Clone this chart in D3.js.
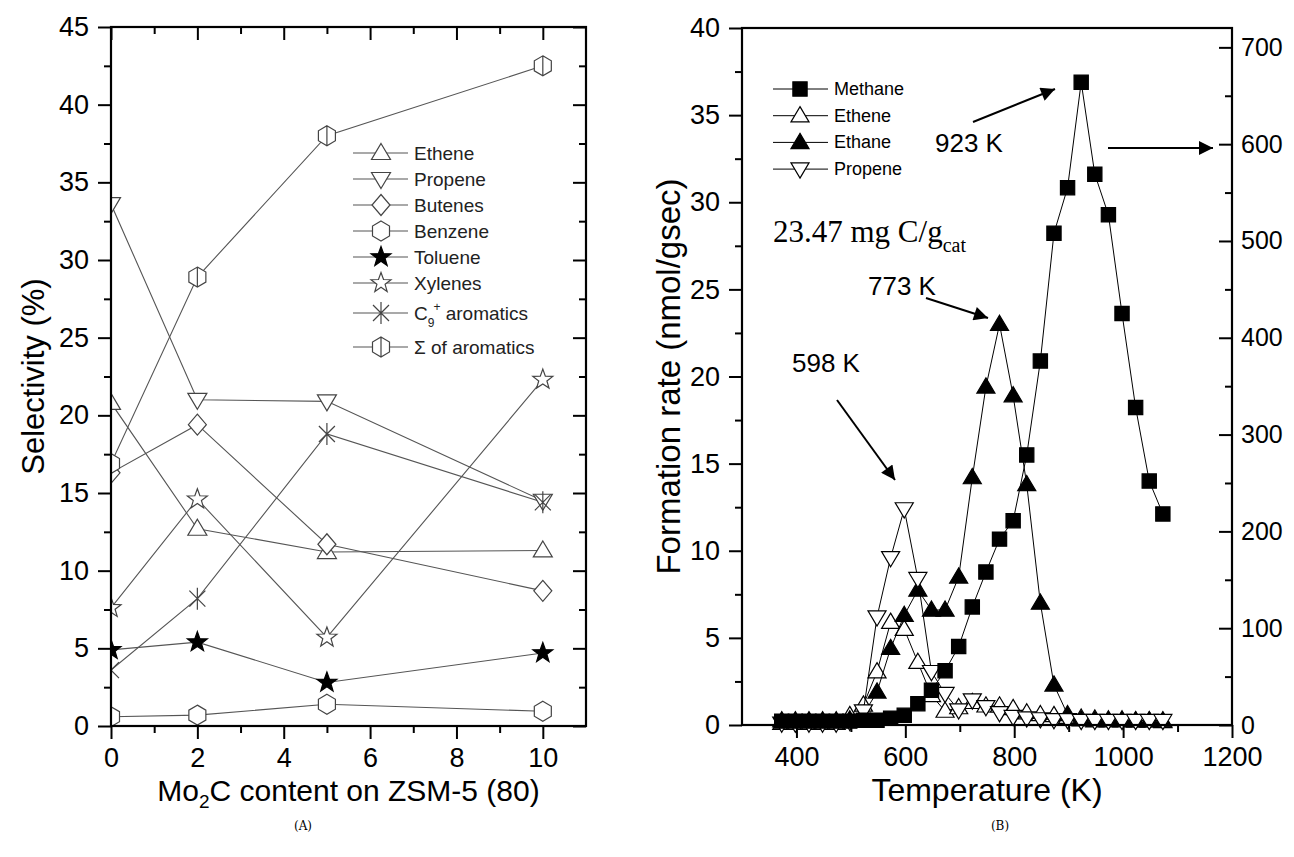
<!DOCTYPE html>
<html><head><meta charset="utf-8">
<script src="https://cdn.jsdelivr.net/npm/d3@7"></script>
<style>body{margin:0;background:#fff}svg{display:block}</style>
</head><body>
<svg id="c" width="1294" height="857"></svg>
<script>
// ---------- Panel A data ----------
const moContent = [0, 2, 5, 10];
const selEthene   = [20.8, 12.7, 11.2, 11.3];
const selPropene  = [33.6, 21.0, 20.9, 14.5];
const selButenes  = [16.3, 19.4, 11.7, 8.7];
const selBenzene  = [0.6, 0.7, 1.4, 0.95];
const selToluene  = [4.9, 5.4, 2.8, 4.7];
const selXylenes  = [7.6, 14.6, 5.7, 22.3];
const selC9       = [3.6, 8.2, 18.8, 14.4];
const selSum      = [16.9, 28.9, 38.0, 42.5];
const xTicksA = [0, 2, 4, 6, 8, 10];
const yTicksA = [0, 5, 10, 15, 20, 25, 30, 35, 40, 45];

// ---------- Panel B data ----------
const temps = [373, 398, 423, 448, 473, 498, 523, 548, 573, 598, 623, 648, 673, 698, 723, 748, 773, 798, 823, 848, 873, 898, 923, 948, 973, 998, 1023, 1048, 1073];
// methane on the right axis
const methane = [4, 4, 4, 4, 4, 4, 5, 5, 7, 10, 22, 36, 56, 81, 122, 158, 192, 211, 279, 376, 508, 555, 664, 569, 527, 425, 328, 252, 218];
const ethene  = [0.1, 0.1, 0.1, 0.1, 0.1, 0.55, 1.15, 3.06, 5.9, 5.5, 3.6, 1.7, 0.8, 1.0, 1.3, 1.1, 1.1, 0.95, 0.7, 0.6, 0.55, 0.45, 0.4, 0.35, 0.3, 0.3, 0.25, 0.25, 0.2];
const ethane  = [0.25, 0.25, 0.25, 0.25, 0.25, 0.3, 0.6, 1.9, 4.4, 6.3, 7.75, 6.6, 6.6, 8.5, 14.2, 19.4, 23.0, 18.9, 13.8, 7.0, 2.3, 0.6, 0.3, 0.25, 0.25, 0.25, 0.25, 0.25, 0.25];
const propene = [0.1, 0.1, 0.1, 0.1, 0.1, 0.2, 0.8, 6.2, 9.6, 12.4, 8.4, 3.06, 1.8, 0.86, 1.43, 1.05, 0.7, 0.48, 0.4, 0.35, 0.3, 0.3, 0.25, 0.25, 0.25, 0.25, 0.25, 0.25, 0.25];
const xTicksB = [400, 600, 800, 1000, 1200];
const yTicksB = [0, 5, 10, 15, 20, 25, 30, 35, 40];
const yTicksB2 = [0, 100, 200, 300, 400, 500, 600, 700];

const SANS = "'Liberation Sans', Arial, sans-serif";
const SERIF = "'Liberation Serif', 'Times New Roman', serif";
const svg = d3.select('#c');

// ---------- marker shapes ----------
function hexPts(rx, ry){ return [[0,-ry],[rx,-ry/2],[rx,ry/2],[0,ry],[-rx,ry/2],[-rx,-ry/2]]; }
function starPts(ro, ri){ const p=[]; for(let i=0;i<10;i++){const a=-Math.PI/2+i*Math.PI/5; const r=i%2?ri:ro; p.push([r*Math.cos(a), r*Math.sin(a)]);} return p; }
function poly(p){ return 'M'+p.map(d=>d[0].toFixed(2)+','+d[1].toFixed(2)).join('L')+'Z'; }
const shapes = {
  triUp:   k => poly([[0,-9.5*k],[9.5*k,6.5*k],[-9.5*k,6.5*k]]),
  triDown: k => poly([[0,9.5*k],[9.5*k,-6.5*k],[-9.5*k,-6.5*k]]),
  diamond: k => poly([[0,-10.5*k],[9*k,0],[0,10.5*k],[-9*k,0]]),
  hex:     k => poly(hexPts(8.5*k,10*k)),
  hexBar:  k => poly(hexPts(8.5*k,10*k)) + `M0,${-10*k}L0,${10*k}`,
  star:    k => poly(starPts(10.5*k,4.3*k)),
  aster:   k => `M0,${-11*k}L0,${11*k}M${-8*k},${-8*k}L${8*k},${8*k}M${-8*k},${8*k}L${8*k},${-8*k}`,
  square:  k => poly([[-7.5*k,-7.5*k],[7.5*k,-7.5*k],[7.5*k,7.5*k],[-7.5*k,7.5*k]])
};

// ================= PANEL A =================
const xA = d3.scaleLinear().domain([0, 11]).range([111, 586]);
const yA = d3.scaleLinear().domain([0, 45]).range([726, 27]);

svg.append('clipPath').attr('id','clipA').append('rect')
  .attr('x', xA(0)).attr('y', yA(45)).attr('width', xA(11)-xA(0)).attr('height', yA(0)-yA(45));

const seriesA = [
  {name:'Ethene',  vals:selEthene,  shape:'triUp',   fill:'#fff'},
  {name:'Propene', vals:selPropene, shape:'triDown', fill:'#fff'},
  {name:'Butenes', vals:selButenes, shape:'diamond', fill:'#fff'},
  {name:'Benzene', vals:selBenzene, shape:'hex',     fill:'#fff'},
  {name:'Toluene', vals:selToluene, shape:'star',    fill:'#000'},
  {name:'Xylenes', vals:selXylenes, shape:'star',    fill:'#fff'},
  {name:'C9',      vals:selC9,      shape:'aster',   fill:'none'},
  {name:'Sum',     vals:selSum,     shape:'hexBar',  fill:'#fff'}
];
const gA = svg.append('g').attr('clip-path','url(#clipA)');
const lineA = d3.line().x((d,i)=>xA(moContent[i])).y(d=>yA(d));
seriesA.forEach(s=>{
  gA.append('path').attr('d', lineA(s.vals)).attr('fill','none').attr('stroke','#555').attr('stroke-width',1.1);
});
seriesA.forEach(s=>{
  gA.selectAll(null).data(s.vals).enter().append('path')
    .attr('transform',(d,i)=>`translate(${xA(moContent[i])},${yA(d)})`)
    .attr('d', shapes[s.shape](1))
    .attr('fill', s.fill).attr('stroke', s.fill==='#000' ? '#000' : '#444').attr('stroke-width',1.2);
});

function styleAxis(g, fs){
  g.selectAll('.domain').remove();
  g.selectAll('line').attr('stroke','#000').attr('stroke-width',2);
  g.selectAll('text').attr('font-family',SANS).attr('font-size',fs).attr('fill','#000');
}
// bottom
svg.append('g').attr('transform',`translate(0,${yA(0)})`)
  .call(d3.axisBottom(xA).tickValues(xTicksA).tickSize(13).tickPadding(9).tickFormat(d3.format('d'))).call(g=>styleAxis(g,27));
svg.append('g').attr('transform',`translate(0,${yA(0)})`)
  .call(d3.axisBottom(xA).tickValues([1,3,5,7,9]).tickSize(7).tickFormat('')).call(g=>styleAxis(g,27));
// top (inward)
svg.append('g').attr('transform',`translate(0,${yA(45)})`)
  .call(d3.axisTop(xA).tickValues(xTicksA).tickSize(-13).tickFormat('')).call(g=>styleAxis(g,27));
svg.append('g').attr('transform',`translate(0,${yA(45)})`)
  .call(d3.axisTop(xA).tickValues([1,3,5,7,9]).tickSize(-7).tickFormat('')).call(g=>styleAxis(g,27));
// left
svg.append('g').attr('transform',`translate(${xA(0)},0)`)
  .call(d3.axisLeft(yA).tickValues(yTicksA).tickSize(13).tickPadding(9)).call(g=>styleAxis(g,27));
svg.append('g').attr('transform',`translate(${xA(0)},0)`)
  .call(d3.axisLeft(yA).tickValues(d3.range(2.5,45,5)).tickSize(7).tickFormat('')).call(g=>styleAxis(g,27));
// right (inward)
svg.append('g').attr('transform',`translate(${xA(11)},0)`)
  .call(d3.axisRight(yA).tickValues(yTicksA).tickSize(-13).tickFormat('')).call(g=>styleAxis(g,27));
svg.append('g').attr('transform',`translate(${xA(11)},0)`)
  .call(d3.axisRight(yA).tickValues(d3.range(2.5,45,5)).tickSize(-7).tickFormat('')).call(g=>styleAxis(g,27));
svg.append('rect').attr('x',xA(0)).attr('y',yA(45)).attr('width',xA(11)-xA(0)).attr('height',yA(0)-yA(45))
  .attr('fill','none').attr('stroke','#000').attr('stroke-width',2.2);

// titles A
svg.append('text').attr('transform',`translate(44,${(yA(0)+yA(45))/2}) rotate(-90)`)
  .attr('text-anchor','middle').attr('font-family',SANS).attr('font-size',31).text('Selectivity (%)');
const tA = svg.append('text').attr('x',(xA(0)+xA(11))/2).attr('y',801).attr('text-anchor','middle')
  .attr('font-family',SANS).attr('font-size',30);
tA.append('tspan').text('Mo');
tA.append('tspan').attr('font-size',19).attr('dy',7).text('2');
tA.append('tspan').attr('dy',-7).text('C content on ZSM-5 (80)');

// legend A
const legA = svg.append('g');
const legNames = ['Ethene','Propene','Butenes','Benzene','Toluene','Xylenes','C9','Sum'];
seriesA.forEach((s,i)=>{
  const y = 153 + i*26 + (i>=6 ? (i-5)*4 : 0) + (i===7 ? 4 : 0);
  legA.append('line').attr('x1',353).attr('x2',408).attr('y1',y).attr('y2',y).attr('stroke','#555').attr('stroke-width',1.1);
  legA.append('path').attr('transform',`translate(381,${y})`).attr('d',shapes[s.shape](1))
    .attr('fill', s.fill==='none' ? 'none' : s.fill).attr('stroke', s.fill==='#000' ? '#000' : '#444').attr('stroke-width',1.2);
  const t = legA.append('text').attr('x',414).attr('y',y+7).attr('font-family',SANS).attr('font-size',19).attr('fill','#222');
  if(s.name==='C9'){
    t.append('tspan').text('C');
    t.append('tspan').attr('font-size',12).attr('dy',7).text('9');
    t.append('tspan').attr('font-size',12).attr('dx',-1).attr('dy',-16).text('+');
    t.append('tspan').attr('dy',9).text(' aromatics');
  } else if(s.name==='Sum'){
    t.text('\u03A3 of aromatics');
  } else t.text(s.name);
});

// ================= PANEL B =================
const xB = d3.scaleLinear().domain([300, 1200]).range([742, 1232]);
const yB = d3.scaleLinear().domain([0, 40]).range([725, 28]);
const yB2 = d3.scaleLinear().domain([0, 720]).range([725, 28]);

const seriesB = [
  {name:'Ethene',  vals:ethene,  y:yB,  shape:'triUp',   fill:'#fff'},
  {name:'Ethane',  vals:ethane,  y:yB,  shape:'triUp',   fill:'#000'},
  {name:'Propene', vals:propene, y:yB,  shape:'triDown', fill:'#fff'},
  {name:'Methane', vals:methane, y:yB2, shape:'square',  fill:'#000'}
];
const gB = svg.append('g');
seriesB.forEach(s=>{
  const ln = d3.line().x((d,i)=>xB(temps[i])).y(d=>s.y(d));
  gB.append('path').attr('d', ln(s.vals)).attr('fill','none').attr('stroke','#000').attr('stroke-width',1);
  gB.selectAll(null).data(s.vals).enter().append('path')
    .attr('transform',(d,i)=>`translate(${xB(temps[i])},${s.y(d)})`)
    .attr('d', shapes[s.shape](s.shape==='square'?0.95:0.95))
    .attr('fill', s.fill).attr('stroke','#000').attr('stroke-width',1.2);
});

// axes B
svg.append('g').attr('transform',`translate(0,${yB(0)})`)
  .call(d3.axisBottom(xB).tickValues(xTicksB).tickSize(13).tickPadding(9).tickFormat(d3.format('d'))).call(g=>styleAxis(g,27));
svg.append('g').attr('transform',`translate(0,${yB(0)})`)
  .call(d3.axisBottom(xB).tickValues([500,700,900,1100]).tickSize(7).tickFormat('')).call(g=>styleAxis(g,27));
svg.append('g').attr('transform',`translate(${xB(300)},0)`)
  .call(d3.axisLeft(yB).tickValues(yTicksB).tickSize(13).tickPadding(9)).call(g=>styleAxis(g,27));
svg.append('g').attr('transform',`translate(${xB(300)},0)`)
  .call(d3.axisLeft(yB).tickValues(d3.range(2.5,40,5)).tickSize(7).tickFormat('')).call(g=>styleAxis(g,27));
svg.append('g').attr('transform',`translate(${xB(1200)},0)`)
  .call(d3.axisRight(yB2).tickValues(yTicksB2).tickSize(-13).tickPadding(9)).call(g=>styleAxis(g,25));
svg.append('g').attr('transform',`translate(${xB(1200)},0)`)
  .call(d3.axisRight(yB2).tickValues(d3.range(50,720,100)).tickSize(-7).tickFormat('')).call(g=>styleAxis(g,25));
svg.append('rect').attr('x',xB(300)).attr('y',yB(40)).attr('width',xB(1200)-xB(300)).attr('height',yB(0)-yB(40))
  .attr('fill','none').attr('stroke','#000').attr('stroke-width',2.2);

svg.append('text').attr('transform',`translate(680,${(yB(0)+yB(40))/2}) rotate(-90)`)
  .attr('text-anchor','middle').attr('font-family',SANS).attr('font-size',33).text('Formation rate (nmol/gsec)');
svg.append('text').attr('x',(xB(300)+xB(1200))/2).attr('y',801).attr('text-anchor','middle')
  .attr('font-family',SANS).attr('font-size',32).text('Temperature (K)');

// legend B
const legB = svg.append('g');
const legOrder = [3,0,1,2];
legOrder.forEach((si,i)=>{
  const s = seriesB[si];
  const y = 89 + i*26.7;
  legB.append('line').attr('x1',773).attr('x2',828).attr('y1',y).attr('y2',y).attr('stroke','#000').attr('stroke-width',1);
  legB.append('path').attr('transform',`translate(800,${y})`).attr('d',shapes[s.shape](0.95))
    .attr('fill',s.fill).attr('stroke','#000').attr('stroke-width',1.2);
  legB.append('text').attr('x',834).attr('y',y+6).attr('font-family',SANS).attr('font-size',18).text(s.name);
});

// annotations
const ann = svg.append('text').attr('x',773).attr('y',242).attr('font-family',SERIF).attr('font-size',31);
ann.append('tspan').text('23.47 mg C/g');
ann.append('tspan').attr('font-size',20).attr('dy',10).text('cat');

svg.append('defs').append('marker').attr('id','ah').attr('viewBox','0 0 10 10').attr('refX',10).attr('refY',5)
  .attr('markerWidth',10).attr('markerHeight',8).attr('orient','auto').attr('markerUnits','userSpaceOnUse')
  .append('path').attr('d','M0,0L10,5L0,10Z').attr('fill','#000');
svg.select('defs').select('marker').attr('markerWidth',20).attr('markerHeight',14);

function arrow(x1,y1,x2,y2){
  svg.append('line').attr('x1',x1).attr('y1',y1).attr('x2',x2).attr('y2',y2)
    .attr('stroke','#000').attr('stroke-width',2).attr('marker-end','url(#ah)');
}
function label(x,y,t){ svg.append('text').attr('x',x).attr('y',y).attr('font-family',SANS).attr('font-size',26).text(t); }
label(935,152,'923 K'); arrow(973,122,1055,89); arrow(1108,148,1213,148);
label(868,295,'773 K'); arrow(926,298,988,318);
label(792,372,'598 K'); arrow(837,400,895,480);

svg.append('text').attr('x',303).attr('y',830).attr('text-anchor','middle').attr('font-family',"'DejaVu Serif', serif").attr('font-size',12).text('(A)');
svg.append('text').attr('x',1000).attr('y',830).attr('text-anchor','middle').attr('font-family',"'DejaVu Serif', serif").attr('font-size',12).text('(B)');
</script>
</body></html>
